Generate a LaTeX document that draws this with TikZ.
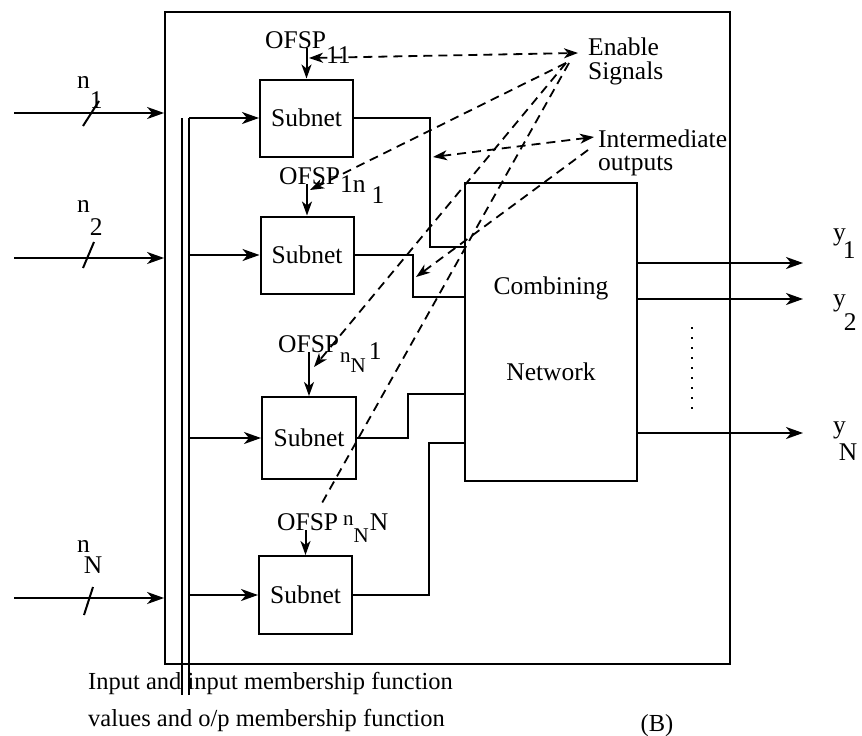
\documentclass[tikz,border=0pt]{standalone}
\usepackage{fontspec}
\setmainfont{Liberation Serif}
\usetikzlibrary{arrows.meta, positioning, calc}

\begin{document}
\begin{tikzpicture}[
  x=1pt, y=-1pt,
  font=\fontsize{25.5}{26}\selectfont,
  wire/.style={line width=2pt},
  arr/.style={wire, -{Stealth[length=17pt, width=12pt, inset=5pt]}},
  arrsmall/.style={wire, -{Stealth[length=14pt, width=10pt, inset=4pt]}},
  subnet/.style={
    draw, line width=2pt, inner sep=0pt,
    minimum width=93pt, minimum height=77pt
  },
  tag/.style={inner sep=0pt},
  sig/.style={line width=1.8pt, dash pattern=on 9pt off 6pt},
  sigarr/.style={sig, -{Stealth[length=14pt, width=10pt, inset=4pt]}},
  sigboth/.style={sig, {Stealth[length=14pt, width=10pt, inset=4pt]}-{Stealth[length=14pt, width=10pt, inset=4pt]}},
]
\useasboundingbox (0,0) rectangle (862,736);

%% Outer frame and the input bus
\node[draw, line width=1.8pt, inner sep=0pt, minimum width=565pt, minimum height=652pt]
    (frame) at (447.5,338) {};
\coordinate (busA) at (182,118);
\coordinate (busB) at (189,118);
\draw[line width=1.6pt] (busA) -- ++(0,577);
\draw[line width=1.6pt] (busB) -- ++(0,577);

%% Subnets (one column)
\node[subnet] (sub1) at (306.5,118) {Subnet};
\node[subnet] (sub2) at (307,255)   {Subnet};
\node[subnet, minimum width=94pt, minimum height=82pt] (sub3) at (309,438) {Subnet};
\node[subnet, minimum height=78pt] (sub4) at (305.5,595) {Subnet};

%% Combining network
\node[draw, line width=2pt, inner sep=0pt, minimum width=172pt, minimum height=298pt]
    (comb) at (551,332)
    {\raisebox{6pt}{\begin{tabular}{@{}c@{}}Combining\\[60pt]Network\end{tabular}}};

%% Inputs
\coordinate (in1) at (14,113);
\coordinate (in2) at (14,258);
\coordinate (inN) at (14,598);
\draw[arr] (in1) -- (in1 -| frame.west);
\draw[arr] (in2) -- (in2 -| frame.west);
\draw[arr] (inN) -- (inN -| frame.west);
\draw[wire] (in1) ++(69,13) -- ++(16,-25);
\draw[wire] (in2) ++(69,10) -- ++(11,-26);
\draw[wire] (inN) ++(70,17) -- ++(9,-28);
\node[tag, anchor=base west] (lab1) at (77,88)  {n\raisebox{-20pt}{1}};
\node[tag, anchor=base west] (lab2) at (77,212) {n\raisebox{-23pt}{2}};
\node[tag, anchor=base west] (labN) at (77,552) {n\kern-6pt\raisebox{-21pt}{N}};

%% Bus -> subnets
\draw[arr] (sub1.west -| busB) -- (sub1.west);
\draw[arr] (sub2.west -| busB) -- (sub2.west);
\draw[arr] (sub3.west -| busB) -- (sub3.west);
\draw[arr] (sub4.west -| busB) -- (sub4.west);

%% OFSP labels above each subnet
\node[tag, anchor=base west] (ofs1) at (265,48)
    {OFSP\raisebox{-15pt}{11}};
\node[tag, anchor=base west] (ofs2) at (279,184)
    {OFSP\raisebox{-8pt}{1n\kern6pt\raisebox{-11pt}{1}}};
\node[tag, anchor=base west] (ofs3) at (278,352)
    {OFSP\kern1pt\raisebox{-10pt}{\fontsize{21}{20}\selectfont n}\raisebox{-20pt}{\fontsize{21}{20}\selectfont N}\kern3pt\raisebox{-7pt}{1}};
\node[tag, anchor=base west] (ofs4) at (277,530)
    {OFSP\kern5pt\raisebox{5pt}{\fontsize{21}{20}\selectfont n}\raisebox{-12pt}{\fontsize{21}{20}\selectfont N}\kern1pt N};
\draw[arrsmall] (sub1.north |- ofs1.base) -- (sub1.north);
\draw[arrsmall] (sub2.north |- ofs2.base) -- (sub2.north);
\draw[arrsmall] (sub3.north |- ofs3.base) -- (sub3.north);
\draw[arrsmall] (sub4.north |- ofs4.base) -- (sub4.north);

%% Subnet outputs into the combining network
\coordinate (m1) at (430,247);
\coordinate (m2) at (413,297);
\coordinate (m3) at (408,394);
\coordinate (m4) at (429,443);
\draw[wire] (sub1.east) -| (m1) -- (m1 -| comb.west);
\draw[wire] (sub2.east) -| (m2) -- (m2 -| comb.west);
\draw[wire] (sub3.east) -| (m3) -- (m3 -| comb.west);
\draw[wire] (sub4.east) -| (m4) -- (m4 -| comb.west);

%% Outputs
\coordinate (out1) at (803,263);
\coordinate (out2) at (803,299);
\coordinate (outN) at (803,433);
\draw[arr] (out1 -| comb.east) -- (out1);
\draw[arr] (out2 -| comb.east) -- (out2);
\draw[arr] (outN -| comb.east) -- (outN);
\node[tag, anchor=base west] (ylab1) at (833,240) {y\kern-3pt\raisebox{-18pt}{1}};
\node[tag, anchor=base west] (ylab2) at (833,306) {y\kern-2pt\raisebox{-24pt}{2}};
\node[tag, anchor=base west] (ylabN) at (833,433) {y\kern-7pt\raisebox{-27pt}{N}};
\coordinate (dotA) at (692,327);
\coordinate (dotB) at (692,412);
\draw[line width=2.2pt, dash pattern=on 2pt off 8pt] (dotA) -- (dotB);

%% Enable signals / intermediate outputs
\node[tag, anchor=base west, align=left, font=\fontsize{25.5}{24}\selectfont]
    (enable) at (588,79) {Enable\\Signals};
\node[tag, anchor=base west, align=left, font=\fontsize{25.5}{23}\selectfont]
    (interm) at (598,170) {Intermediate\\outputs};
\coordinate (es0) at (578,53);
\coordinate (es)  at (566,63);
\coordinate (t11) at (309,58);
\coordinate (t1n) at (310,190);
\coordinate (tN1) at (314,367);
\coordinate (tNN) at (322,503);
\draw[sigboth] (t11) -- (es0);
\draw[sigarr] (es) -- (t1n);
\draw[sigarr] (es) -- (tN1);
\draw[sig] ($(es)+(3,0)$) -- (tNN);

\coordinate (is1) at (594,137);
\coordinate (is2) at (588,150);
\coordinate (im1) at (433,157);
\coordinate (im2) at (416,277);
\draw[sigboth] (im1) -- (is1);
\draw[sigarr] (is2) -- (im2);

%% Caption text below the frame
\node[tag, anchor=north west, align=left, font=\fontsize{24.5}{37}\selectfont]
    (note) at (88,672) {Input and input membership function\\values and o/p membership function};
\node[tag, anchor=base, font=\fontsize{24.5}{26}\selectfont] (tagB) at (657,731) {(B)};
\end{tikzpicture}
\end{document}
